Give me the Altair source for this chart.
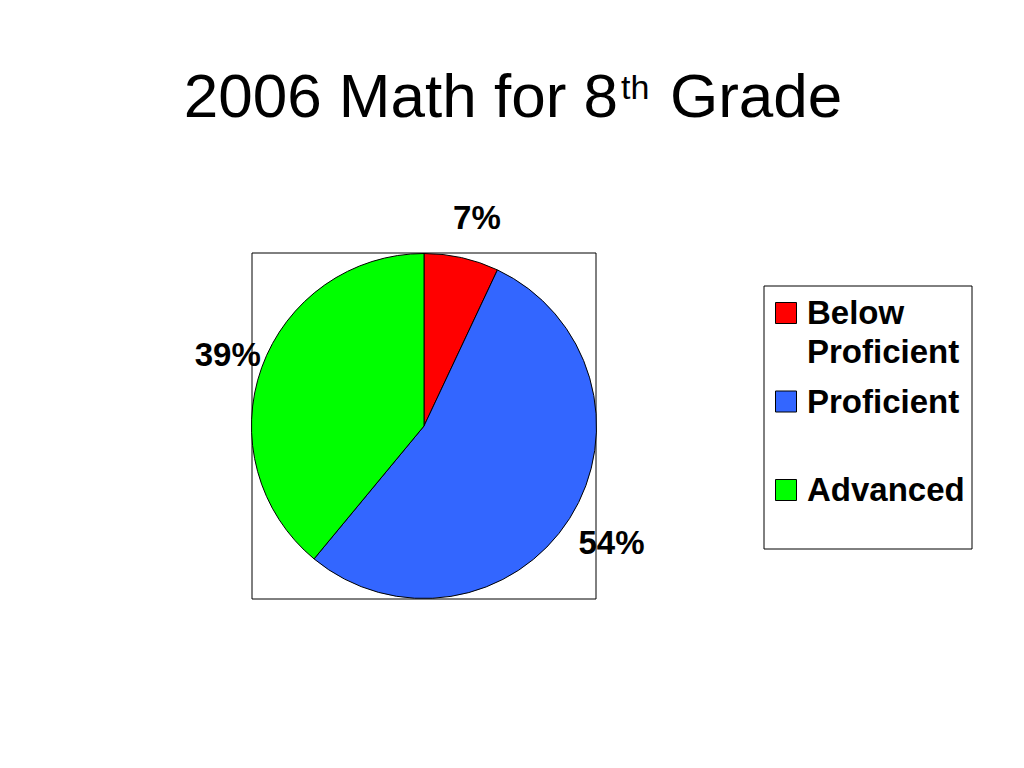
import altair as alt
import pandas as pd

# ---- data ----
categories = ["Below Proficient", "Proficient", "Advanced"]
legend_labels = ["Below\nProficient", "Proficient", "Advanced"]
percent_values = [7, 54, 39]
percent_labels = ["7%", "54%", "39%"]
colors = ["#FF0000", "#3366FF", "#00FF00"]
title_main = "2006 Math for 8"
title_sup = "th"
title_end = "Grade"

df = pd.DataFrame({
    "category": categories,
    "value": percent_values,
    "label": percent_labels,
    "legend": legend_labels,
    "order": list(range(len(categories))),
})
one = pd.DataFrame({"k": [0]})

W, H = 1008, 740
FONT = "Liberation Sans"
CX, CY = 416, 418

color_scale = alt.Scale(domain=categories, range=colors)
legend_y = alt.Y("category:N", axis=None,
                 scale=alt.Scale(type="point", domain=categories, range=[305, 482], padding=0))

pie_box = alt.Chart(one).mark_rect(fillOpacity=0, stroke="black", strokeWidth=1).encode(
    x=alt.value(244), x2=alt.value(588), y=alt.value(245), y2=alt.value(591))

legend_box = alt.Chart(one).mark_rect(fillOpacity=0, stroke="black", strokeWidth=1).encode(
    x=alt.value(756), x2=alt.value(964), y=alt.value(278), y2=alt.value(541))

pie = alt.Chart(df).mark_arc(outerRadius=172.5, stroke="black", strokeWidth=1).encode(
    theta=alt.Theta("value:Q", stack=True),
    color=alt.Color("category:N", scale=color_scale, legend=None),
    order=alt.Order("order:Q"),
    x=alt.value(CX), y=alt.value(CY),
)

labels = alt.Chart(df).mark_text(
    radius=215, dx=6, dy=3, font=FONT, fontSize=33, fontWeight="bold",
    color="black", baseline="middle", align="center",
).encode(
    theta=alt.Theta("value:Q", stack=True),
    order=alt.Order("order:Q"),
    text="label:N",
    x=alt.value(CX), y=alt.value(CY),
)

swatches = alt.Chart(df).mark_square(size=441, stroke="black", strokeWidth=1, opacity=1).encode(
    x=alt.value(778),
    y=legend_y,
    color=alt.Color("category:N", scale=color_scale, legend=None),
)

legend_text = alt.Chart(df).mark_text(
    align="left", baseline="alphabetic", dy=11, lineBreak="\n", lineHeight=39,
    font=FONT, fontSize=33, fontWeight="bold", color="black",
).encode(
    x=alt.value(799),
    y=legend_y,
    text="legend:N",
)

t1 = alt.Chart(pd.DataFrame({"t": [title_main]})).mark_text(
    align="right", baseline="alphabetic", font=FONT, fontSize=62, color="black"
).encode(text="t:N", x=alt.value(610), y=alt.value(109))

t2 = alt.Chart(pd.DataFrame({"t": [title_sup]})).mark_text(
    align="left", baseline="alphabetic", font=FONT, fontSize=34, color="black"
).encode(text="t:N", x=alt.value(613), y=alt.value(91))

t3 = alt.Chart(pd.DataFrame({"t": [title_end]})).mark_text(
    align="left", baseline="alphabetic", font=FONT, fontSize=62, color="black"
).encode(text="t:N", x=alt.value(662), y=alt.value(109))

chart = alt.layer(
    pie_box, legend_box, pie, labels, swatches, legend_text, t1, t2, t3
).properties(
    width=W, height=H, padding=0,
    autosize=alt.AutoSizeParams(type="none"),
).configure_view(strokeWidth=0)

chart.save("out.html", embed_options={"renderer": "svg", "actions": False})
